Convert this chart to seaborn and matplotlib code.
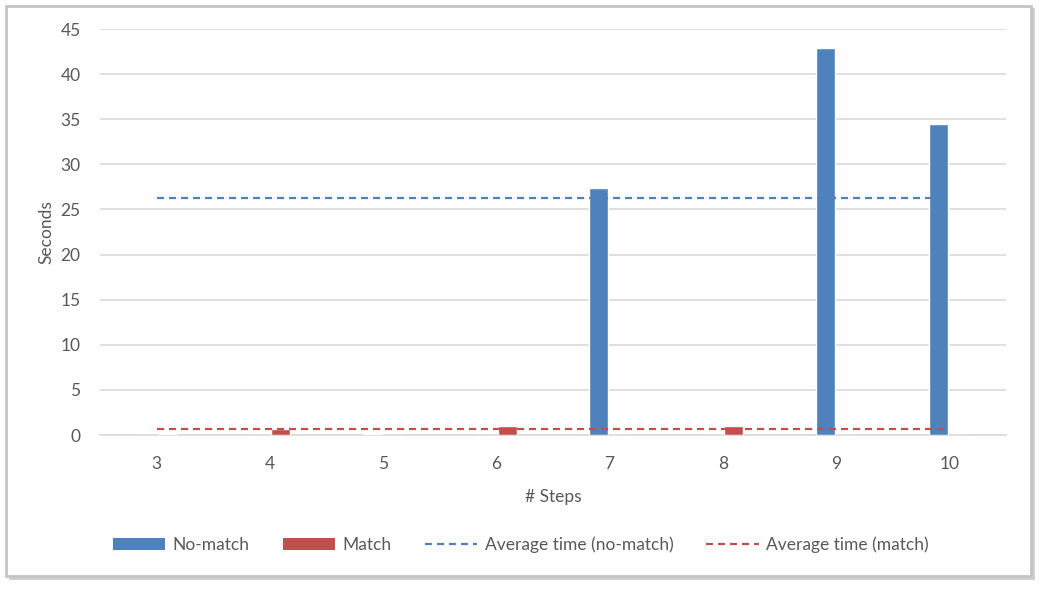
import numpy as np
import pandas as pd
import matplotlib
matplotlib.use("Agg")
import matplotlib.pyplot as plt
from matplotlib.patches import Rectangle, Patch
from matplotlib.lines import Line2D
import seaborn as sns

# data
steps = [3, 4, 5, 6, 7, 8, 9, 10]
no_match = [0, 0, 0.1, 0, 27.4, 0, 42.9, 34.5]
match = [0.15, 0.65, 0, 0.95, 0, 0.95, 0, 0]
avg_no_match = 26.3
avg_match = 0.7

blue = '#4F81BD'
red = '#C0504D'
txt = '#595959'
grid = '#D9D9D9'
fs = 12.5

sns.set_theme(style='white')
plt.rcParams['font.family'] = ['Lato', 'DejaVu Sans']
plt.rcParams['font.size'] = fs

df = pd.DataFrame({
    'Steps': steps * 2,
    'Seconds': no_match + match,
    'Type': ['No-match'] * len(steps) + ['Match'] * len(steps),
})

W, H = 1045, 590
fig = plt.figure(figsize=(W / 100, H / 100), dpi=100, facecolor='white')

# outer frame with shadow, Excel style
fig.patches.append(Rectangle((9 / W, 1 - 580 / H), 1026 / W, 572 / H, transform=fig.transFigure,
                             fc='#cfcfcf', ec='none', zorder=-3))
fig.patches.append(Rectangle((6 / W, 1 - 576 / H), 1025 / W, 570 / H, transform=fig.transFigure,
                             fc='white', ec='#c4c4c4', lw=2, zorder=-2))

ax = fig.add_axes([100 / W, 1 - 435 / H, 906 / W, 406 / H])
ax.set_facecolor('none')

sns.barplot(data=df, x='Steps', y='Seconds', hue='Type', palette=[blue, red],
            width=0.38, gap=0.12, legend=False, ax=ax, saturation=1, zorder=3)

xpos = np.arange(len(steps))
sns.lineplot(x=xpos, y=[avg_no_match] * len(steps), color=blue, lw=1.6,
             linestyle=(0, (3.2, 2.2)), ax=ax, zorder=4)
sns.lineplot(x=xpos, y=[avg_match] * len(steps), color=red, lw=1.6,
             linestyle=(0, (3.2, 2.2)), ax=ax, zorder=4)

ax.set_ylim(0, 45)
ax.set_yticks(range(0, 46, 5))
ax.set_xlim(-0.5, len(steps) - 0.5)
ax.yaxis.grid(True, color=grid, lw=1.2, zorder=0)
ax.set_axisbelow(True)
for s in ['top', 'right', 'left']:
    ax.spines[s].set_visible(False)
ax.spines['bottom'].set_color(grid)
ax.spines['bottom'].set_linewidth(1.2)
ax.tick_params(axis='both', colors=txt, labelsize=fs, length=0)
ax.tick_params(axis='y', pad=14)
ax.tick_params(axis='x', pad=15)

ax.set_xlabel('# Steps', color=txt, fontsize=fs, labelpad=12)
ax.set_ylabel('Seconds', color=txt, fontsize=fs, labelpad=4)

handles = [
    Patch(facecolor=blue, edgecolor='none', label='No-match'),
    Patch(facecolor=red, edgecolor='none', label='Match'),
    Line2D([], [], color=blue, lw=1.6, linestyle=(0, (3.2, 2.2)), label='Average time (no-match)'),
    Line2D([], [], color=red, lw=1.6, linestyle=(0, (3.2, 2.2)), label='Average time (match)'),
]
leg = fig.legend(handles=handles, loc='center', bbox_to_anchor=(521 / W, 1 - 545 / H), ncol=4,
                 frameon=False, handlelength=3.0, handleheight=0.65, handletextpad=0.45,
                 columnspacing=1.9, fontsize=fs)
for t in leg.get_texts():
    t.set_color(txt)

fig.savefig('out.png', dpi=100, facecolor='white')
